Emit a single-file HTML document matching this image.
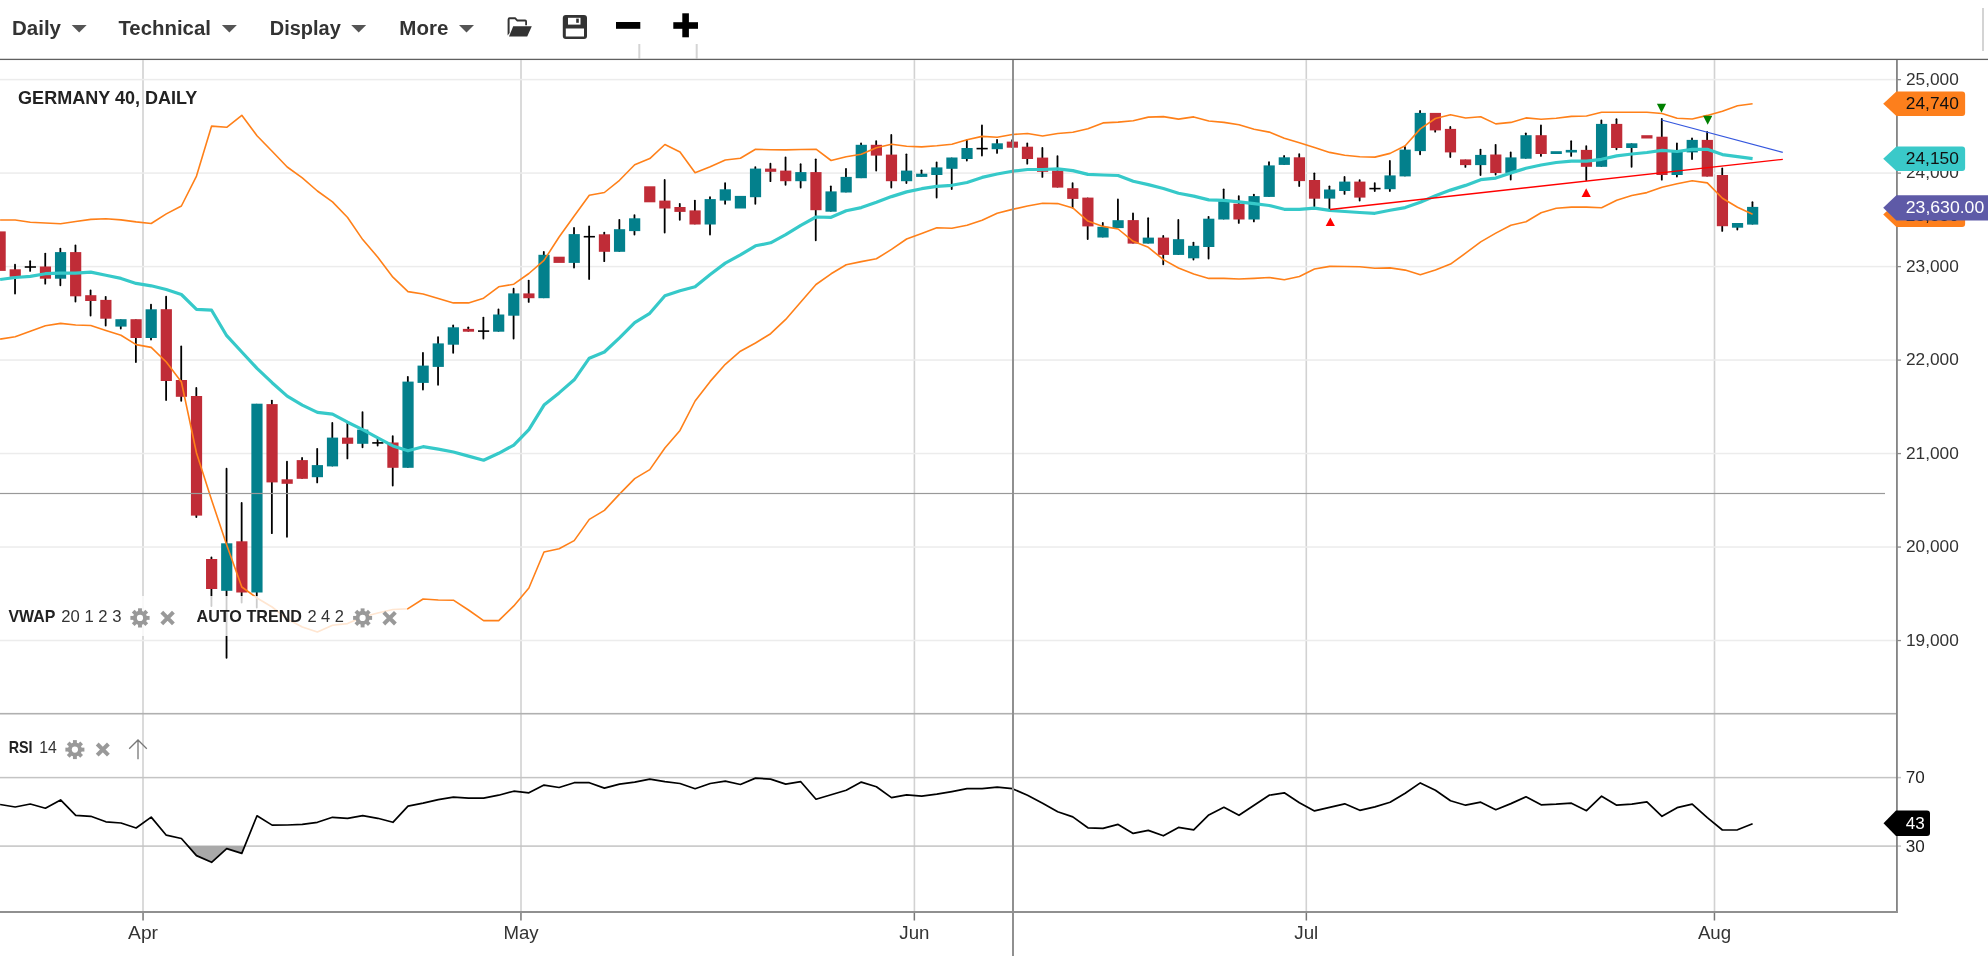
<!DOCTYPE html><html><head><meta charset="utf-8"><style>html,body{margin:0;padding:0;background:#fff;}body{width:1988px;height:956px;overflow:hidden;position:relative;}svg{position:absolute;left:0;top:0;will-change:transform;}text{font-family:"Liberation Sans", sans-serif;}</style></head><body>
<svg width="1988" height="956" viewBox="0 0 1988 956">
<text x="12" y="35.3" font-size="20" font-weight="bold" fill="#333" textLength="49" lengthAdjust="spacingAndGlyphs">Daily</text>
<path d="M71.7 25 L86.7 25 L79.2 32.6 Z" fill="#555"/>
<text x="118.4" y="35.3" font-size="20" font-weight="bold" fill="#333" textLength="92.5" lengthAdjust="spacingAndGlyphs">Technical</text>
<path d="M221.9 25 L236.9 25 L229.4 32.6 Z" fill="#555"/>
<text x="269.8" y="35.3" font-size="20" font-weight="bold" fill="#333" textLength="71" lengthAdjust="spacingAndGlyphs">Display</text>
<path d="M351.2 25 L366.2 25 L358.7 32.6 Z" fill="#555"/>
<text x="399.3" y="35.3" font-size="20" font-weight="bold" fill="#333" textLength="49" lengthAdjust="spacingAndGlyphs">More</text>
<path d="M459 25 L474 25 L466.5 32.6 Z" fill="#555"/>
<path d="M508.5 20.5 L508.5 35.5 Q508.5 36.8 510 36.8 L527 36.8 L531.5 26 L513.5 26 L509.8 34.5 Z" fill="none"/>
<g fill="#333"><path d="M507.6 19.5 Q507.6 17.3 509.6 17.3 L515.4 17.3 L517.6 19.6 L525.2 19.6 Q527 19.6 527 21.4 L527 25.2 L525.2 25.2 L525.2 21.6 L517 21.6 L514.8 19.3 L509.6 19.3 L509.6 33 L507.6 35.5 Z"/><path d="M513.2 26.2 L531.8 26.2 L527.2 36.6 L509 36.6 Z"/></g>
<g><rect x="562.8" y="15" width="24.2" height="24" rx="3" fill="#333"/><rect x="565.8" y="28.5" width="18.2" height="8" fill="#fff"/><rect x="568" y="17.8" width="12.5" height="6.8" fill="#fff"/><rect x="576.2" y="18.6" width="2.6" height="4.2" fill="#333"/></g>
<rect x="616" y="22" width="24.3" height="6.8" fill="#000"/>
<rect x="673.3" y="22.2" width="24.7" height="6.6" fill="#000"/><rect x="682.3" y="13.3" width="6.6" height="24" fill="#000"/>
<rect x="638.3" y="44" width="2" height="14.5" fill="#d4d4d4"/><rect x="695.7" y="44" width="2" height="14.5" fill="#d4d4d4"/><rect x="1982" y="8" width="2" height="43" fill="#d4d4d4"/>
<rect x="0" y="58.75" width="1988" height="1.3" fill="#606060"/>
<rect x="142.2" y="60" width="1.6" height="852" fill="#d2d2d2"/>
<rect x="142.30" y="912" width="1.5" height="8.5" fill="#777"/>
<rect x="520.2" y="60" width="1.6" height="852" fill="#d2d2d2"/>
<rect x="520.20" y="912" width="1.5" height="8.5" fill="#777"/>
<rect x="913.6" y="60" width="1.6" height="852" fill="#d2d2d2"/>
<rect x="913.60" y="912" width="1.5" height="8.5" fill="#777"/>
<rect x="1305.5" y="60" width="1.6" height="852" fill="#d2d2d2"/>
<rect x="1305.60" y="912" width="1.5" height="8.5" fill="#777"/>
<rect x="1713.7" y="60" width="1.6" height="852" fill="#d2d2d2"/>
<rect x="1713.70" y="912" width="1.5" height="8.5" fill="#777"/>
<rect x="0" y="639.75" width="1897" height="1.5" fill="#ececec"/>
<rect x="0" y="546.26" width="1897" height="1.5" fill="#ececec"/>
<rect x="0" y="452.78" width="1897" height="1.5" fill="#ececec"/>
<rect x="0" y="359.30" width="1897" height="1.5" fill="#ececec"/>
<rect x="0" y="265.82" width="1897" height="1.5" fill="#ececec"/>
<rect x="0" y="172.33" width="1897" height="1.5" fill="#ececec"/>
<rect x="0" y="78.85" width="1897" height="1.5" fill="#ececec"/>
<rect x="0" y="712.9" width="1896" height="1.6" fill="#b0b0b0"/>
<rect x="0" y="776.85" width="1901" height="1.5" fill="#c4c4c4"/>
<rect x="0" y="845.35" width="1901" height="1.5" fill="#c4c4c4"/>
<rect x="-5.48" y="231.40" width="11.2" height="39.50" fill="#c02c37"/>
<line x1="15.03" y1="264.6" x2="15.03" y2="293.6" stroke="#000" stroke-width="1.8" stroke-linecap="round"/>
<rect x="9.63" y="269.30" width="11.2" height="7.50" fill="#c02c37"/>
<line x1="30.14" y1="261.2" x2="30.14" y2="270.9" stroke="#000" stroke-width="1.8" stroke-linecap="round"/>
<line x1="24.74" y1="267" x2="35.94" y2="267" stroke="#000" stroke-width="1.6"/>
<line x1="45.24" y1="253.6" x2="45.24" y2="283.7" stroke="#000" stroke-width="1.8" stroke-linecap="round"/>
<rect x="39.84" y="266.50" width="11.2" height="12.20" fill="#c02c37"/>
<line x1="60.35" y1="248.6" x2="60.35" y2="285.3" stroke="#000" stroke-width="1.8" stroke-linecap="round"/>
<rect x="54.95" y="252.10" width="11.2" height="26.60" fill="#03808c"/>
<line x1="75.46" y1="245.5" x2="75.46" y2="301.5" stroke="#000" stroke-width="1.8" stroke-linecap="round"/>
<rect x="70.06" y="252.10" width="11.2" height="44.20" fill="#c02c37"/>
<line x1="90.57" y1="290.5" x2="90.57" y2="315.6" stroke="#000" stroke-width="1.8" stroke-linecap="round"/>
<rect x="85.17" y="295.20" width="11.2" height="5.80" fill="#c02c37"/>
<line x1="105.68" y1="296.8" x2="105.68" y2="325.5" stroke="#000" stroke-width="1.8" stroke-linecap="round"/>
<rect x="100.28" y="299.90" width="11.2" height="18.80" fill="#c02c37"/>
<line x1="120.78" y1="320.09999999999997" x2="120.78" y2="328.6" stroke="#000" stroke-width="1.8" stroke-linecap="round"/>
<rect x="115.38" y="319.20" width="11.2" height="7.40" fill="#03808c"/>
<line x1="135.89" y1="320.09999999999997" x2="135.89" y2="362" stroke="#000" stroke-width="1.8" stroke-linecap="round"/>
<rect x="130.49" y="319.20" width="11.2" height="18.80" fill="#c02c37"/>
<line x1="151.00" y1="304.6" x2="151.00" y2="339.6" stroke="#000" stroke-width="1.8" stroke-linecap="round"/>
<rect x="145.60" y="309.30" width="11.2" height="28.70" fill="#03808c"/>
<line x1="166.11" y1="296.7" x2="166.11" y2="400" stroke="#000" stroke-width="1.8" stroke-linecap="round"/>
<rect x="160.71" y="309.20" width="11.2" height="71.80" fill="#c02c37"/>
<line x1="181.22" y1="346.4" x2="181.22" y2="400.8" stroke="#000" stroke-width="1.8" stroke-linecap="round"/>
<rect x="175.82" y="380.00" width="11.2" height="16.80" fill="#c02c37"/>
<line x1="196.32" y1="388.0" x2="196.32" y2="517" stroke="#000" stroke-width="1.8" stroke-linecap="round"/>
<rect x="190.92" y="396.00" width="11.2" height="119.60" fill="#c02c37"/>
<line x1="211.43" y1="557.4" x2="211.43" y2="606" stroke="#000" stroke-width="1.8" stroke-linecap="round"/>
<rect x="206.03" y="559.00" width="11.2" height="30.00" fill="#c02c37"/>
<line x1="226.54" y1="468.7" x2="226.54" y2="657.8" stroke="#000" stroke-width="1.8" stroke-linecap="round"/>
<rect x="221.14" y="543.30" width="11.2" height="47.50" fill="#03808c"/>
<line x1="241.65" y1="503" x2="241.65" y2="602.5" stroke="#000" stroke-width="1.8" stroke-linecap="round"/>
<rect x="236.25" y="541.30" width="11.2" height="51.20" fill="#c02c37"/>
<line x1="256.76" y1="404.59999999999997" x2="256.76" y2="607.6" stroke="#000" stroke-width="1.8" stroke-linecap="round"/>
<rect x="251.36" y="403.70" width="11.2" height="188.80" fill="#03808c"/>
<line x1="271.86" y1="400.6" x2="271.86" y2="533.2" stroke="#000" stroke-width="1.8" stroke-linecap="round"/>
<rect x="266.46" y="404.10" width="11.2" height="78.30" fill="#c02c37"/>
<line x1="286.97" y1="461.6" x2="286.97" y2="536.8" stroke="#000" stroke-width="1.8" stroke-linecap="round"/>
<rect x="281.57" y="479.30" width="11.2" height="4.50" fill="#c02c37"/>
<line x1="302.08" y1="458" x2="302.08" y2="477.90000000000003" stroke="#000" stroke-width="1.8" stroke-linecap="round"/>
<rect x="296.68" y="460.10" width="11.2" height="18.70" fill="#c02c37"/>
<line x1="317.19" y1="448.8" x2="317.19" y2="482.4" stroke="#000" stroke-width="1.8" stroke-linecap="round"/>
<rect x="311.79" y="465.10" width="11.2" height="12.10" fill="#03808c"/>
<line x1="332.30" y1="423" x2="332.30" y2="465.5" stroke="#000" stroke-width="1.8" stroke-linecap="round"/>
<rect x="326.90" y="437.60" width="11.2" height="28.80" fill="#03808c"/>
<line x1="347.40" y1="423" x2="347.40" y2="458.4" stroke="#000" stroke-width="1.8" stroke-linecap="round"/>
<rect x="342.00" y="437.60" width="11.2" height="6.20" fill="#c02c37"/>
<line x1="362.51" y1="412.1" x2="362.51" y2="447.3" stroke="#000" stroke-width="1.8" stroke-linecap="round"/>
<rect x="357.11" y="429.60" width="11.2" height="14.20" fill="#03808c"/>
<line x1="377.62" y1="438.4" x2="377.62" y2="445.6" stroke="#000" stroke-width="1.8" stroke-linecap="round"/>
<line x1="372.22" y1="442.9" x2="383.42" y2="442.9" stroke="#000" stroke-width="1.6"/>
<line x1="392.73" y1="436.1" x2="392.73" y2="485.6" stroke="#000" stroke-width="1.8" stroke-linecap="round"/>
<rect x="387.33" y="442.50" width="11.2" height="25.30" fill="#c02c37"/>
<line x1="407.84" y1="376.8" x2="407.84" y2="466.90000000000003" stroke="#000" stroke-width="1.8" stroke-linecap="round"/>
<rect x="402.44" y="381.60" width="11.2" height="86.20" fill="#03808c"/>
<line x1="422.94" y1="352.8" x2="422.94" y2="389.5" stroke="#000" stroke-width="1.8" stroke-linecap="round"/>
<rect x="417.54" y="365.60" width="11.2" height="17.30" fill="#03808c"/>
<line x1="438.05" y1="337.1" x2="438.05" y2="384.8" stroke="#000" stroke-width="1.8" stroke-linecap="round"/>
<rect x="432.65" y="343.40" width="11.2" height="23.50" fill="#03808c"/>
<line x1="453.16" y1="325.5" x2="453.16" y2="352.8" stroke="#000" stroke-width="1.8" stroke-linecap="round"/>
<rect x="447.76" y="327.30" width="11.2" height="17.40" fill="#03808c"/>
<line x1="468.27" y1="327.3" x2="468.27" y2="330.8" stroke="#000" stroke-width="1.8" stroke-linecap="round"/>
<rect x="462.87" y="328.90" width="11.2" height="2.80" fill="#c02c37"/>
<line x1="483.38" y1="317.6" x2="483.38" y2="338.6" stroke="#000" stroke-width="1.8" stroke-linecap="round"/>
<line x1="477.98" y1="331.1" x2="489.18" y2="331.1" stroke="#000" stroke-width="1.6"/>
<line x1="498.48" y1="309.5" x2="498.48" y2="330.8" stroke="#000" stroke-width="1.8" stroke-linecap="round"/>
<rect x="493.08" y="314.50" width="11.2" height="17.20" fill="#03808c"/>
<line x1="513.59" y1="288.7" x2="513.59" y2="338.6" stroke="#000" stroke-width="1.8" stroke-linecap="round"/>
<rect x="508.19" y="293.40" width="11.2" height="22.30" fill="#03808c"/>
<line x1="528.70" y1="280.6" x2="528.70" y2="301.9" stroke="#000" stroke-width="1.8" stroke-linecap="round"/>
<rect x="523.30" y="293.40" width="11.2" height="4.80" fill="#c02c37"/>
<line x1="543.81" y1="252" x2="543.81" y2="297.3" stroke="#000" stroke-width="1.8" stroke-linecap="round"/>
<rect x="538.41" y="254.80" width="11.2" height="43.40" fill="#03808c"/>
<rect x="553.52" y="256.70" width="11.2" height="6.20" fill="#c02c37"/>
<line x1="574.02" y1="227.9" x2="574.02" y2="267.5" stroke="#000" stroke-width="1.8" stroke-linecap="round"/>
<rect x="568.62" y="234.10" width="11.2" height="28.80" fill="#03808c"/>
<line x1="589.13" y1="226.5" x2="589.13" y2="279" stroke="#000" stroke-width="1.8" stroke-linecap="round"/>
<line x1="583.73" y1="236.7" x2="594.93" y2="236.7" stroke="#000" stroke-width="1.6"/>
<line x1="604.24" y1="232.6" x2="604.24" y2="261.2" stroke="#000" stroke-width="1.8" stroke-linecap="round"/>
<rect x="598.84" y="234.30" width="11.2" height="17.50" fill="#c02c37"/>
<line x1="619.35" y1="219.8" x2="619.35" y2="250.9" stroke="#000" stroke-width="1.8" stroke-linecap="round"/>
<rect x="613.95" y="229.20" width="11.2" height="22.60" fill="#03808c"/>
<line x1="634.46" y1="215.1" x2="634.46" y2="234.5" stroke="#000" stroke-width="1.8" stroke-linecap="round"/>
<rect x="629.06" y="218.30" width="11.2" height="12.80" fill="#03808c"/>
<rect x="644.16" y="186.30" width="11.2" height="16.00" fill="#c02c37"/>
<line x1="664.67" y1="179.9" x2="664.67" y2="232.6" stroke="#000" stroke-width="1.8" stroke-linecap="round"/>
<rect x="659.27" y="200.60" width="11.2" height="7.90" fill="#c02c37"/>
<line x1="679.78" y1="203.8" x2="679.78" y2="219.8" stroke="#000" stroke-width="1.8" stroke-linecap="round"/>
<rect x="674.38" y="207.00" width="11.2" height="4.90" fill="#c02c37"/>
<line x1="694.89" y1="200.6" x2="694.89" y2="223.6" stroke="#000" stroke-width="1.8" stroke-linecap="round"/>
<rect x="689.49" y="210.40" width="11.2" height="14.10" fill="#c02c37"/>
<line x1="710.00" y1="197.2" x2="710.00" y2="234.5" stroke="#000" stroke-width="1.8" stroke-linecap="round"/>
<rect x="704.60" y="199.10" width="11.2" height="25.40" fill="#03808c"/>
<line x1="725.10" y1="183.1" x2="725.10" y2="203.8" stroke="#000" stroke-width="1.8" stroke-linecap="round"/>
<rect x="719.70" y="189.30" width="11.2" height="11.30" fill="#03808c"/>
<rect x="734.81" y="195.90" width="11.2" height="12.60" fill="#03808c"/>
<line x1="755.32" y1="167.1" x2="755.32" y2="203.8" stroke="#000" stroke-width="1.8" stroke-linecap="round"/>
<rect x="749.92" y="168.60" width="11.2" height="28.60" fill="#03808c"/>
<line x1="770.43" y1="163.7" x2="770.43" y2="181.2" stroke="#000" stroke-width="1.8" stroke-linecap="round"/>
<rect x="765.03" y="168.60" width="11.2" height="3.20" fill="#c02c37"/>
<line x1="785.54" y1="157.5" x2="785.54" y2="184.8" stroke="#000" stroke-width="1.8" stroke-linecap="round"/>
<rect x="780.14" y="170.60" width="11.2" height="10.60" fill="#c02c37"/>
<line x1="800.64" y1="164.2" x2="800.64" y2="187.6" stroke="#000" stroke-width="1.8" stroke-linecap="round"/>
<rect x="795.24" y="172.10" width="11.2" height="9.10" fill="#03808c"/>
<line x1="815.75" y1="159.3" x2="815.75" y2="240.3" stroke="#000" stroke-width="1.8" stroke-linecap="round"/>
<rect x="810.35" y="172.10" width="11.2" height="38.10" fill="#c02c37"/>
<line x1="830.86" y1="186.3" x2="830.86" y2="210.79999999999998" stroke="#000" stroke-width="1.8" stroke-linecap="round"/>
<rect x="825.46" y="191.40" width="11.2" height="20.30" fill="#03808c"/>
<line x1="845.97" y1="168.8" x2="845.97" y2="191.6" stroke="#000" stroke-width="1.8" stroke-linecap="round"/>
<rect x="840.57" y="176.90" width="11.2" height="15.60" fill="#03808c"/>
<line x1="861.08" y1="143.5" x2="861.08" y2="177.29999999999998" stroke="#000" stroke-width="1.8" stroke-linecap="round"/>
<rect x="855.68" y="144.80" width="11.2" height="33.40" fill="#03808c"/>
<line x1="876.18" y1="141.1" x2="876.18" y2="170.6" stroke="#000" stroke-width="1.8" stroke-linecap="round"/>
<rect x="870.78" y="144.80" width="11.2" height="10.80" fill="#c02c37"/>
<line x1="891.29" y1="135" x2="891.29" y2="187.6" stroke="#000" stroke-width="1.8" stroke-linecap="round"/>
<rect x="885.89" y="154.60" width="11.2" height="26.60" fill="#c02c37"/>
<line x1="906.40" y1="154.3" x2="906.40" y2="183.1" stroke="#000" stroke-width="1.8" stroke-linecap="round"/>
<rect x="901.00" y="170.60" width="11.2" height="10.60" fill="#03808c"/>
<line x1="921.51" y1="170.3" x2="921.51" y2="176.0" stroke="#000" stroke-width="1.8" stroke-linecap="round"/>
<rect x="916.11" y="173.70" width="11.2" height="3.20" fill="#03808c"/>
<line x1="936.62" y1="162.4" x2="936.62" y2="197.6" stroke="#000" stroke-width="1.8" stroke-linecap="round"/>
<rect x="931.22" y="167.40" width="11.2" height="7.60" fill="#03808c"/>
<line x1="951.72" y1="158.4" x2="951.72" y2="189.1" stroke="#000" stroke-width="1.8" stroke-linecap="round"/>
<rect x="946.32" y="157.50" width="11.2" height="11.30" fill="#03808c"/>
<line x1="966.83" y1="140.1" x2="966.83" y2="160.5" stroke="#000" stroke-width="1.8" stroke-linecap="round"/>
<rect x="961.43" y="148.00" width="11.2" height="11.00" fill="#03808c"/>
<line x1="981.94" y1="125.4" x2="981.94" y2="155.6" stroke="#000" stroke-width="1.8" stroke-linecap="round"/>
<line x1="976.54" y1="148.6" x2="987.74" y2="148.6" stroke="#000" stroke-width="1.6"/>
<line x1="997.05" y1="139.8" x2="997.05" y2="152.9" stroke="#000" stroke-width="1.8" stroke-linecap="round"/>
<rect x="991.65" y="143.30" width="11.2" height="5.90" fill="#03808c"/>
<line x1="1012.16" y1="140.1" x2="1012.16" y2="146.79999999999998" stroke="#000" stroke-width="1.8" stroke-linecap="round"/>
<rect x="1006.76" y="141.60" width="11.2" height="6.10" fill="#c02c37"/>
<line x1="1027.26" y1="143.5" x2="1027.26" y2="163.7" stroke="#000" stroke-width="1.8" stroke-linecap="round"/>
<rect x="1021.86" y="146.70" width="11.2" height="12.30" fill="#c02c37"/>
<line x1="1042.37" y1="148" x2="1042.37" y2="176.9" stroke="#000" stroke-width="1.8" stroke-linecap="round"/>
<rect x="1036.97" y="157.60" width="11.2" height="14.20" fill="#c02c37"/>
<line x1="1057.48" y1="156.1" x2="1057.48" y2="186.7" stroke="#000" stroke-width="1.8" stroke-linecap="round"/>
<rect x="1052.08" y="170.60" width="11.2" height="17.00" fill="#c02c37"/>
<line x1="1072.59" y1="183.1" x2="1072.59" y2="207.6" stroke="#000" stroke-width="1.8" stroke-linecap="round"/>
<rect x="1067.19" y="188.20" width="11.2" height="10.70" fill="#c02c37"/>
<line x1="1087.70" y1="198.5" x2="1087.70" y2="239" stroke="#000" stroke-width="1.8" stroke-linecap="round"/>
<rect x="1082.30" y="197.60" width="11.2" height="28.80" fill="#c02c37"/>
<line x1="1102.80" y1="223" x2="1102.80" y2="236.6" stroke="#000" stroke-width="1.8" stroke-linecap="round"/>
<rect x="1097.40" y="226.80" width="11.2" height="10.70" fill="#03808c"/>
<line x1="1117.91" y1="199.5" x2="1117.91" y2="227.2" stroke="#000" stroke-width="1.8" stroke-linecap="round"/>
<rect x="1112.51" y="220.20" width="11.2" height="7.90" fill="#03808c"/>
<line x1="1133.02" y1="213.5" x2="1133.02" y2="242.7" stroke="#000" stroke-width="1.8" stroke-linecap="round"/>
<rect x="1127.62" y="220.10" width="11.2" height="23.50" fill="#c02c37"/>
<line x1="1148.13" y1="218.2" x2="1148.13" y2="242.7" stroke="#000" stroke-width="1.8" stroke-linecap="round"/>
<rect x="1142.73" y="237.60" width="11.2" height="6.00" fill="#03808c"/>
<line x1="1163.24" y1="236" x2="1163.24" y2="264.3" stroke="#000" stroke-width="1.8" stroke-linecap="round"/>
<rect x="1157.84" y="237.60" width="11.2" height="17.30" fill="#c02c37"/>
<line x1="1178.34" y1="220" x2="1178.34" y2="254.0" stroke="#000" stroke-width="1.8" stroke-linecap="round"/>
<rect x="1172.94" y="239.20" width="11.2" height="15.70" fill="#03808c"/>
<line x1="1193.45" y1="242.6" x2="1193.45" y2="259.6" stroke="#000" stroke-width="1.8" stroke-linecap="round"/>
<rect x="1188.05" y="245.80" width="11.2" height="12.50" fill="#03808c"/>
<line x1="1208.56" y1="216.8" x2="1208.56" y2="258.6" stroke="#000" stroke-width="1.8" stroke-linecap="round"/>
<rect x="1203.16" y="218.70" width="11.2" height="28.30" fill="#03808c"/>
<line x1="1223.67" y1="189.3" x2="1223.67" y2="218.6" stroke="#000" stroke-width="1.8" stroke-linecap="round"/>
<rect x="1218.27" y="201.20" width="11.2" height="18.30" fill="#03808c"/>
<line x1="1238.78" y1="196.1" x2="1238.78" y2="222.9" stroke="#000" stroke-width="1.8" stroke-linecap="round"/>
<rect x="1233.38" y="203.70" width="11.2" height="15.80" fill="#c02c37"/>
<line x1="1253.88" y1="194.6" x2="1253.88" y2="221.4" stroke="#000" stroke-width="1.8" stroke-linecap="round"/>
<rect x="1248.48" y="196.10" width="11.2" height="23.40" fill="#03808c"/>
<line x1="1268.99" y1="162.2" x2="1268.99" y2="196.0" stroke="#000" stroke-width="1.8" stroke-linecap="round"/>
<rect x="1263.59" y="165.40" width="11.2" height="31.50" fill="#03808c"/>
<line x1="1284.10" y1="156" x2="1284.10" y2="164.0" stroke="#000" stroke-width="1.8" stroke-linecap="round"/>
<rect x="1278.70" y="157.30" width="11.2" height="7.60" fill="#03808c"/>
<line x1="1299.21" y1="154.1" x2="1299.21" y2="186.1" stroke="#000" stroke-width="1.8" stroke-linecap="round"/>
<rect x="1293.81" y="157.30" width="11.2" height="23.80" fill="#c02c37"/>
<line x1="1314.32" y1="173.3" x2="1314.32" y2="206.2" stroke="#000" stroke-width="1.8" stroke-linecap="round"/>
<rect x="1308.92" y="180.00" width="11.2" height="18.70" fill="#c02c37"/>
<line x1="1329.42" y1="186.3" x2="1329.42" y2="208.9" stroke="#000" stroke-width="1.8" stroke-linecap="round"/>
<rect x="1324.02" y="189.50" width="11.2" height="9.10" fill="#03808c"/>
<line x1="1344.53" y1="176.9" x2="1344.53" y2="193.9" stroke="#000" stroke-width="1.8" stroke-linecap="round"/>
<rect x="1339.13" y="181.60" width="11.2" height="9.40" fill="#03808c"/>
<line x1="1359.64" y1="180.1" x2="1359.64" y2="200.5" stroke="#000" stroke-width="1.8" stroke-linecap="round"/>
<rect x="1354.24" y="181.60" width="11.2" height="16.00" fill="#c02c37"/>
<line x1="1374.75" y1="183.1" x2="1374.75" y2="191" stroke="#000" stroke-width="1.8" stroke-linecap="round"/>
<line x1="1369.35" y1="188.6" x2="1380.55" y2="188.6" stroke="#000" stroke-width="1.6"/>
<line x1="1389.86" y1="160.9" x2="1389.86" y2="191" stroke="#000" stroke-width="1.8" stroke-linecap="round"/>
<rect x="1384.46" y="175.40" width="11.2" height="13.80" fill="#03808c"/>
<line x1="1404.96" y1="146.8" x2="1404.96" y2="175.5" stroke="#000" stroke-width="1.8" stroke-linecap="round"/>
<rect x="1399.56" y="149.60" width="11.2" height="26.80" fill="#03808c"/>
<line x1="1420.07" y1="111" x2="1420.07" y2="154.3" stroke="#000" stroke-width="1.8" stroke-linecap="round"/>
<rect x="1414.67" y="112.90" width="11.2" height="38.20" fill="#03808c"/>
<line x1="1435.18" y1="113.80000000000001" x2="1435.18" y2="131.7" stroke="#000" stroke-width="1.8" stroke-linecap="round"/>
<rect x="1429.78" y="112.90" width="11.2" height="17.50" fill="#c02c37"/>
<line x1="1450.29" y1="127" x2="1450.29" y2="157.1" stroke="#000" stroke-width="1.8" stroke-linecap="round"/>
<rect x="1444.89" y="128.90" width="11.2" height="23.50" fill="#c02c37"/>
<line x1="1465.40" y1="160.3" x2="1465.40" y2="166.9" stroke="#000" stroke-width="1.8" stroke-linecap="round"/>
<rect x="1460.00" y="159.40" width="11.2" height="5.70" fill="#c02c37"/>
<line x1="1480.50" y1="149.6" x2="1480.50" y2="175" stroke="#000" stroke-width="1.8" stroke-linecap="round"/>
<rect x="1475.10" y="154.90" width="11.2" height="10.20" fill="#03808c"/>
<line x1="1495.61" y1="144.8" x2="1495.61" y2="174.6" stroke="#000" stroke-width="1.8" stroke-linecap="round"/>
<rect x="1490.21" y="154.50" width="11.2" height="18.50" fill="#c02c37"/>
<line x1="1510.72" y1="152.5" x2="1510.72" y2="179.5" stroke="#000" stroke-width="1.8" stroke-linecap="round"/>
<rect x="1505.32" y="157.40" width="11.2" height="15.50" fill="#03808c"/>
<line x1="1525.83" y1="133.3" x2="1525.83" y2="157.79999999999998" stroke="#000" stroke-width="1.8" stroke-linecap="round"/>
<rect x="1520.43" y="135.20" width="11.2" height="23.50" fill="#03808c"/>
<line x1="1540.94" y1="125.4" x2="1540.94" y2="155.9" stroke="#000" stroke-width="1.8" stroke-linecap="round"/>
<rect x="1535.54" y="135.20" width="11.2" height="18.80" fill="#c02c37"/>
<rect x="1550.64" y="151.20" width="11.2" height="2.80" fill="#03808c"/>
<line x1="1571.15" y1="141.2" x2="1571.15" y2="155.9" stroke="#000" stroke-width="1.8" stroke-linecap="round"/>
<rect x="1565.75" y="149.90" width="11.2" height="2.60" fill="#03808c"/>
<line x1="1586.26" y1="146.1" x2="1586.26" y2="180" stroke="#000" stroke-width="1.8" stroke-linecap="round"/>
<rect x="1580.86" y="149.90" width="11.2" height="16.90" fill="#c02c37"/>
<line x1="1601.37" y1="120.5" x2="1601.37" y2="165.9" stroke="#000" stroke-width="1.8" stroke-linecap="round"/>
<rect x="1595.97" y="123.90" width="11.2" height="42.90" fill="#03808c"/>
<line x1="1616.48" y1="119.2" x2="1616.48" y2="149.3" stroke="#000" stroke-width="1.8" stroke-linecap="round"/>
<rect x="1611.08" y="123.90" width="11.2" height="24.10" fill="#c02c37"/>
<line x1="1631.58" y1="144.20000000000002" x2="1631.58" y2="166.8" stroke="#000" stroke-width="1.8" stroke-linecap="round"/>
<rect x="1626.18" y="143.30" width="11.2" height="4.70" fill="#03808c"/>
<rect x="1641.29" y="135.20" width="11.2" height="3.30" fill="#c02c37"/>
<line x1="1661.80" y1="119" x2="1661.80" y2="179.7" stroke="#000" stroke-width="1.8" stroke-linecap="round"/>
<rect x="1656.40" y="136.70" width="11.2" height="38.30" fill="#c02c37"/>
<line x1="1676.91" y1="143.3" x2="1676.91" y2="176.6" stroke="#000" stroke-width="1.8" stroke-linecap="round"/>
<rect x="1671.51" y="150.90" width="11.2" height="24.10" fill="#03808c"/>
<line x1="1692.02" y1="138.3" x2="1692.02" y2="159" stroke="#000" stroke-width="1.8" stroke-linecap="round"/>
<rect x="1686.62" y="139.90" width="11.2" height="12.50" fill="#03808c"/>
<line x1="1707.12" y1="132" x2="1707.12" y2="175.7" stroke="#000" stroke-width="1.8" stroke-linecap="round"/>
<rect x="1701.72" y="139.90" width="11.2" height="36.70" fill="#c02c37"/>
<line x1="1722.23" y1="168.4" x2="1722.23" y2="230.9" stroke="#000" stroke-width="1.8" stroke-linecap="round"/>
<rect x="1716.83" y="175.00" width="11.2" height="51.20" fill="#c02c37"/>
<line x1="1737.34" y1="223.9" x2="1737.34" y2="229.6" stroke="#000" stroke-width="1.8" stroke-linecap="round"/>
<rect x="1731.94" y="223.00" width="11.2" height="4.70" fill="#03808c"/>
<line x1="1752.45" y1="202.2" x2="1752.45" y2="223.7" stroke="#000" stroke-width="1.8" stroke-linecap="round"/>
<rect x="1747.05" y="206.90" width="11.2" height="17.70" fill="#03808c"/>
<polyline points="0.1,220.0 15.2,220.0 30.3,222.3 45.4,223.0 60.6,223.8 75.7,221.5 90.8,219.4 105.9,218.8 121.0,219.9 136.1,221.9 151.2,223.5 166.3,213.9 181.4,206.0 196.5,176.1 211.6,126.1 226.7,127.3 241.8,115.3 257.0,135.7 272.1,151.3 287.2,167.0 302.3,177.8 317.4,191.0 332.5,201.9 347.6,217.5 362.7,239.6 377.8,257.2 392.9,277.2 408.0,291.6 423.1,294.0 438.3,298.5 453.4,302.9 468.5,302.9 483.6,298.2 498.7,286.8 513.8,284.2 528.9,273.5 544.0,260.4 559.1,237.0 574.2,216.0 589.3,195.3 604.4,192.5 619.5,180.3 634.7,164.8 649.8,158.6 664.9,144.5 680.0,152.0 695.1,172.7 710.2,166.7 725.3,160.0 740.4,158.2 755.5,149.2 770.6,149.8 785.7,149.9 800.8,149.5 816.0,149.2 831.1,160.5 846.2,156.7 861.3,154.3 876.4,147.7 891.5,144.3 906.6,146.2 921.7,146.9 936.8,145.8 951.9,144.3 967.0,139.8 982.1,136.4 997.2,137.3 1012.4,134.5 1027.5,133.5 1042.6,136.0 1057.7,133.5 1072.8,132.2 1087.9,128.8 1103.0,122.9 1118.1,122.1 1133.2,120.7 1148.3,117.1 1163.4,116.6 1178.5,119.1 1193.7,116.9 1208.8,121.0 1223.9,122.4 1239.0,124.7 1254.1,129.3 1269.2,132.1 1284.3,138.2 1299.4,142.8 1314.5,147.4 1329.6,152.4 1344.7,155.3 1359.8,156.8 1374.9,157.1 1390.1,153.4 1405.2,145.8 1420.3,128.9 1435.4,118.5 1450.5,114.8 1465.6,118.0 1480.7,116.7 1495.8,123.9 1510.9,122.4 1526.0,117.9 1541.1,119.2 1556.2,118.2 1571.4,116.4 1586.5,116.0 1601.6,112.2 1616.7,112.2 1631.8,112.2 1646.9,112.2 1662.0,113.5 1677.1,118.2 1692.2,119.0 1707.3,115.4 1722.4,111.2 1737.5,105.7 1752.6,103.8" fill="none" stroke="#ff8019" stroke-width="1.6" stroke-linejoin="round"/>
<polyline points="0.1,339.1 15.2,336.8 30.3,331.3 45.4,325.8 60.6,323.4 75.7,325.0 90.8,325.5 105.9,330.5 121.0,335.2 136.1,344.6 151.2,347.4 166.3,362.0 181.4,382.0 196.5,453.0 211.6,500.0 226.7,545.0 241.8,587.0 257.0,598.0 272.1,607.0 287.2,619.0 302.3,627.0 317.4,632.0 332.5,625.3 347.6,623.6 362.7,617.0 377.8,613.0 392.9,609.5 408.0,608.7 423.1,599.0 438.3,600.0 453.4,600.2 468.5,610.0 483.6,620.6 498.7,620.6 513.8,605.9 528.9,588.0 544.0,552.0 559.1,548.8 574.2,540.6 589.3,519.4 604.4,510.4 619.5,494.1 634.7,478.6 649.8,469.6 664.9,448.0 680.0,430.4 695.1,401.0 710.2,381.4 725.3,364.3 740.4,351.2 755.5,343.0 770.6,333.7 785.7,319.4 800.8,302.0 816.0,284.5 831.1,273.8 846.2,264.8 861.3,261.6 876.4,258.8 891.5,249.4 906.6,239.0 921.7,233.4 936.8,227.7 951.9,228.3 967.0,225.3 982.1,220.2 997.2,213.2 1012.4,209.4 1027.5,206.0 1042.6,203.2 1057.7,203.6 1072.8,207.9 1087.9,221.1 1103.0,226.4 1118.1,229.0 1133.2,241.3 1148.3,247.3 1163.4,259.6 1178.5,268.0 1193.7,274.1 1208.8,278.4 1223.9,278.4 1239.0,279.0 1254.1,278.4 1269.2,277.5 1284.3,279.7 1299.4,276.5 1314.5,269.0 1329.6,266.4 1344.7,266.5 1359.8,266.8 1374.9,268.3 1390.1,267.9 1405.2,270.1 1420.3,274.8 1435.4,270.1 1450.5,264.1 1465.6,253.2 1480.7,241.9 1495.8,233.1 1510.9,225.2 1526.0,221.8 1541.1,212.8 1556.2,208.3 1571.4,207.1 1586.5,207.1 1601.6,207.7 1616.7,200.2 1631.8,195.5 1646.9,192.6 1662.0,187.2 1677.1,183.8 1692.2,180.7 1707.3,182.9 1722.4,198.2 1737.5,207.3 1752.6,214.2" fill="none" stroke="#ff8019" stroke-width="1.6" stroke-linejoin="round"/>
<polyline points="0.1,279.5 15.2,277.5 30.3,276.4 45.4,273.7 60.6,273.2 75.7,273.2 90.8,272.1 105.9,275.3 121.0,278.4 136.1,283.4 151.2,285.8 166.3,289.5 181.4,294.5 196.5,309.4 211.6,310.2 226.7,335.7 241.8,352.0 257.0,368.4 272.1,382.7 287.2,396.1 302.3,405.1 317.4,412.4 332.5,414.1 347.6,422.2 362.7,429.6 377.8,437.8 392.9,445.9 408.0,450.8 423.1,446.7 438.3,449.2 453.4,452.0 468.5,456.1 483.6,460.2 498.7,453.3 513.8,445.1 528.9,429.6 544.0,405.1 559.1,392.9 574.2,379.8 589.3,358.2 604.4,352.0 619.5,337.8 634.7,322.7 649.8,313.3 664.9,295.7 680.0,290.8 695.1,286.7 710.2,274.5 725.3,263.1 740.4,254.9 755.5,245.8 770.6,242.8 785.7,234.7 800.8,225.3 816.0,217.0 831.1,217.3 846.2,210.8 861.3,207.6 876.4,202.3 891.5,196.6 906.6,191.9 921.7,188.7 936.8,186.3 951.9,185.3 967.0,182.5 982.1,177.4 997.2,174.0 1012.4,171.2 1027.5,169.5 1042.6,169.5 1057.7,168.8 1072.8,170.6 1087.9,174.4 1103.0,175.0 1118.1,175.5 1133.2,181.3 1148.3,184.6 1163.4,188.5 1178.5,193.3 1193.7,196.1 1208.8,199.9 1223.9,200.3 1239.0,201.8 1254.1,203.7 1269.2,205.5 1284.3,209.3 1299.4,209.3 1314.5,208.2 1329.6,210.3 1344.7,211.5 1359.8,212.5 1374.9,213.3 1390.1,210.3 1405.2,207.6 1420.3,202.3 1435.4,195.8 1450.5,190.1 1465.6,185.4 1480.7,179.7 1495.8,178.1 1510.9,172.9 1526.0,168.2 1541.1,165.0 1556.2,162.5 1571.4,161.2 1586.5,161.2 1601.6,159.3 1616.7,155.9 1631.8,154.0 1646.9,152.5 1662.0,150.4 1677.1,151.5 1692.2,149.3 1707.3,149.3 1722.4,154.6 1737.5,156.7 1752.6,158.7" fill="none" stroke="#36c9c9" stroke-width="3.2" stroke-linejoin="round"/>
<line x1="1330.1" y1="209.5" x2="1782.8" y2="159.3" stroke="#ff0000" stroke-width="1.3"/>
<line x1="1661.5" y1="120" x2="1782.8" y2="152.3" stroke="#3557de" stroke-width="1.2"/>
<path d="M1325.7 226.0 L1334.8999999999999 226.0 L1330.3 217.4 Z" fill="#ff0000"/>
<path d="M1581.6000000000001 196.9 L1590.8 196.9 L1586.2 188.3 Z" fill="#ff0000"/>
<path d="M1656.9 103.7 L1666.1 103.7 L1661.5 112.7 Z" fill="#008000"/>
<path d="M1703.1000000000001 115.8 L1712.3 115.8 L1707.7 124.8 Z" fill="#008000"/>
<rect x="0" y="492.9" width="1885" height="1.2" fill="#999"/>
<rect x="0" y="596" width="407" height="40" fill="#fff" fill-opacity="0.8"/>
<text x="8.5" y="621.9" font-size="17" font-weight="bold" fill="#222" textLength="46.9" lengthAdjust="spacingAndGlyphs">VWAP</text>
<text x="61.3" y="621.9" font-size="17" fill="#333" textLength="60.2" lengthAdjust="spacingAndGlyphs">20 1 2 3</text>
<g transform="translate(140,617.9)" fill="#999"><circle r="7.10"/><rect x="-1.95" y="-9.6" width="3.9" height="19.2" transform="rotate(0)"/><rect x="-1.95" y="-9.6" width="3.9" height="19.2" transform="rotate(45)"/><rect x="-1.95" y="-9.6" width="3.9" height="19.2" transform="rotate(90)"/><rect x="-1.95" y="-9.6" width="3.9" height="19.2" transform="rotate(135)"/><circle r="3.1" fill="#fff"/></g>
<path d="M161.79999999999998 612.2 L173.4 623.8 M173.4 612.2 L161.79999999999998 623.8" stroke="#999" stroke-width="4" stroke-linecap="butt"/>
<text x="196.5" y="621.9" font-size="17" font-weight="bold" fill="#222" textLength="105.5" lengthAdjust="spacingAndGlyphs">AUTO TREND</text>
<text x="307.4" y="621.9" font-size="17" fill="#333" textLength="36.6" lengthAdjust="spacingAndGlyphs">2 4 2</text>
<g transform="translate(362.6,617.9)" fill="#999"><circle r="7.03"/><rect x="-1.95" y="-9.5" width="3.9" height="19.0" transform="rotate(0)"/><rect x="-1.95" y="-9.5" width="3.9" height="19.0" transform="rotate(45)"/><rect x="-1.95" y="-9.5" width="3.9" height="19.0" transform="rotate(90)"/><rect x="-1.95" y="-9.5" width="3.9" height="19.0" transform="rotate(135)"/><circle r="3.1" fill="#fff"/></g>
<path d="M383.8 612.4000000000001 L395.40000000000003 624.0 M395.40000000000003 612.4000000000001 L383.8 624.0" stroke="#999" stroke-width="4" stroke-linecap="butt"/>
<text x="18.1" y="104.1" font-size="18" font-weight="bold" fill="#222" textLength="179.3" lengthAdjust="spacingAndGlyphs">GERMANY 40, DAILY</text>
<path d="M187 846.1 L195.5 855.6 L211.3 862.3 L226.3 848.6 L241.4 853.4 L244.5 846.1 Z" fill="#a9a9a9"/>
<polyline points="0.1,804.5 15.2,807.0 30.3,804.0 45.4,808.2 60.6,799.9 75.7,815.4 90.8,816.3 105.9,821.8 121.0,823.0 136.1,828.0 151.2,817.1 166.3,835.2 181.4,838.5 196.5,855.6 211.6,862.3 226.7,848.6 241.8,853.4 257.0,815.8 272.1,825.1 287.2,825.0 302.3,824.4 317.4,822.3 332.5,817.3 347.6,818.3 362.7,815.7 377.8,818.3 392.9,822.3 408.0,806.2 423.1,803.2 438.3,799.6 453.4,797.2 468.5,798.2 483.6,798.2 498.7,795.2 513.8,791.2 528.9,792.8 544.0,785.1 559.1,787.5 574.2,782.7 589.3,782.7 604.4,788.1 619.5,784.1 634.7,782.1 649.8,779.1 664.9,781.7 680.0,783.5 695.1,788.7 710.2,783.5 725.3,781.1 740.4,784.5 755.5,778.1 770.6,779.1 785.7,784.1 800.8,781.7 816.0,799.2 831.1,794.8 846.2,790.2 861.3,782.1 876.4,786.7 891.5,797.6 906.6,794.8 921.7,796.2 936.8,794.2 951.9,791.6 967.0,788.7 982.1,788.7 997.2,787.1 1012.4,788.7 1027.5,795.2 1042.6,803.2 1057.7,811.7 1072.8,816.9 1087.9,827.8 1103.0,828.4 1118.1,824.4 1133.2,833.4 1148.3,830.4 1163.4,835.8 1178.5,827.4 1193.7,829.8 1208.8,814.9 1223.9,807.3 1239.0,815.3 1254.1,805.2 1269.2,795.2 1284.3,792.8 1299.4,802.8 1314.5,810.9 1329.6,807.3 1344.7,803.8 1359.8,810.3 1374.9,806.9 1390.1,802.2 1405.2,793.2 1420.3,782.9 1435.4,790.2 1450.5,800.8 1465.6,805.2 1480.7,802.2 1495.8,809.7 1510.9,803.6 1526.0,796.8 1541.1,804.8 1556.2,804.2 1571.4,803.2 1586.5,810.7 1601.6,796.2 1616.7,805.2 1631.8,804.2 1646.9,801.8 1662.0,816.3 1677.1,807.7 1692.2,804.2 1707.3,817.7 1722.4,830.0 1737.5,829.8 1752.6,823.8" fill="none" stroke="#000" stroke-width="1.7" stroke-linejoin="round"/>
<text x="8.7" y="753" font-size="17" font-weight="bold" fill="#222" textLength="23.9" lengthAdjust="spacingAndGlyphs">RSI</text>
<text x="39.3" y="753" font-size="17" fill="#333" textLength="17.6" lengthAdjust="spacingAndGlyphs">14</text>
<g transform="translate(74.9,749.6)" fill="#999"><circle r="7.03"/><rect x="-1.95" y="-9.5" width="3.9" height="19.0" transform="rotate(0)"/><rect x="-1.95" y="-9.5" width="3.9" height="19.0" transform="rotate(45)"/><rect x="-1.95" y="-9.5" width="3.9" height="19.0" transform="rotate(90)"/><rect x="-1.95" y="-9.5" width="3.9" height="19.0" transform="rotate(135)"/><circle r="3.1" fill="#fff"/></g>
<path d="M97.2 744.0 L108.39999999999999 755.2 M108.39999999999999 744.0 L97.2 755.2" stroke="#999" stroke-width="4" stroke-linecap="butt"/>
<path d="M138 759.3 L138 740.5 M129.2 748.8 L138 740 L146.8 748.8" stroke="#777" stroke-width="1.3" fill="none"/>
<rect x="1896.05" y="60" width="1.75" height="853" fill="#7f7f7f"/>
<rect x="0" y="911" width="1897.5" height="2" fill="#909090"/>
<rect x="1012" y="60" width="2" height="896" fill="#909090"/>
<rect x="1896" y="79.00" width="5" height="1.3" fill="#8a8a8a"/>
<text x="1906" y="85.00" font-size="16" fill="#333" textLength="52.8" lengthAdjust="spacingAndGlyphs">25,000</text>
<rect x="1896" y="172.48" width="5" height="1.3" fill="#8a8a8a"/>
<text x="1906" y="178.48" font-size="16" fill="#333" textLength="52.8" lengthAdjust="spacingAndGlyphs">24,000</text>
<rect x="1896" y="265.97" width="5" height="1.3" fill="#8a8a8a"/>
<text x="1906" y="271.97" font-size="16" fill="#333" textLength="52.8" lengthAdjust="spacingAndGlyphs">23,000</text>
<rect x="1896" y="359.45" width="5" height="1.3" fill="#8a8a8a"/>
<text x="1906" y="365.45" font-size="16" fill="#333" textLength="52.8" lengthAdjust="spacingAndGlyphs">22,000</text>
<rect x="1896" y="452.93" width="5" height="1.3" fill="#8a8a8a"/>
<text x="1906" y="458.93" font-size="16" fill="#333" textLength="52.8" lengthAdjust="spacingAndGlyphs">21,000</text>
<rect x="1896" y="546.41" width="5" height="1.3" fill="#8a8a8a"/>
<text x="1906" y="552.41" font-size="16" fill="#333" textLength="52.8" lengthAdjust="spacingAndGlyphs">20,000</text>
<rect x="1896" y="639.90" width="5" height="1.3" fill="#8a8a8a"/>
<text x="1906" y="645.90" font-size="16" fill="#333" textLength="52.8" lengthAdjust="spacingAndGlyphs">19,000</text>
<text x="1905.8" y="783.20" font-size="16" fill="#222" textLength="19" lengthAdjust="spacingAndGlyphs">70</text>
<text x="1905.8" y="851.50" font-size="16" fill="#222" textLength="19" lengthAdjust="spacingAndGlyphs">30</text>
<path d="M1883.2 103.8 L1896.4 91.5 L1962.1 91.5 Q1965.1 91.5 1965.1 94.5 L1965.1 113.1 Q1965.1 116.1 1962.1 116.1 L1896.4 116.1 Z" fill="#fd7f1c"/><text x="1905.8" y="109.40" font-size="16" fill="#111" textLength="53" lengthAdjust="spacingAndGlyphs">24,740</text>
<path d="M1883.2 158.8 L1896.4 146.5 L1962.1 146.5 Q1965.1 146.5 1965.1 149.5 L1965.1 168.10000000000002 Q1965.1 171.10000000000002 1962.1 171.10000000000002 L1896.4 171.10000000000002 Z" fill="#3ac9c9"/><text x="1905.8" y="164.40" font-size="16" fill="#111" textLength="53" lengthAdjust="spacingAndGlyphs">24,150</text>
<path d="M1883.2 214.6 L1896.4 202.29999999999998 L1962.1 202.29999999999998 Q1965.1 202.29999999999998 1965.1 205.29999999999998 L1965.1 223.9 Q1965.1 226.9 1962.1 226.9 L1896.4 226.9 Z" fill="#fd7f1c"/><text x="1905.8" y="220.90" font-size="16" fill="#111" textLength="53" lengthAdjust="spacingAndGlyphs">23,550</text>
<path d="M1883.2 207.8 L1896.4 195.20000000000002 L1990 195.20000000000002 Q1993 195.20000000000002 1993 198.20000000000002 L1993 217.4 Q1993 220.4 1990 220.4 L1896.4 220.4 Z" fill="#5e5aa7"/><text x="1905.8" y="213.40" font-size="16" fill="#fff" textLength="78.4" lengthAdjust="spacingAndGlyphs">23,630.00</text>
<path d="M1883.5 823.3 L1896 810.6 L1927 810.6 Q1930 810.6 1930 813.6 L1930 833 Q1930 836 1927 836 L1896 836 Z" fill="#000"/>
<text x="1905.8" y="829" font-size="16" fill="#fff" textLength="19" lengthAdjust="spacingAndGlyphs">43</text>
<text x="128.1" y="938.6" font-size="17.5" fill="#333" textLength="29.9" lengthAdjust="spacingAndGlyphs">Apr</text>
<text x="503.4" y="938.6" font-size="17.5" fill="#333" textLength="35.2" lengthAdjust="spacingAndGlyphs">May</text>
<text x="899.3" y="938.6" font-size="17.5" fill="#333" textLength="30.1" lengthAdjust="spacingAndGlyphs">Jun</text>
<text x="1294.3" y="938.6" font-size="17.5" fill="#333" textLength="24" lengthAdjust="spacingAndGlyphs">Jul</text>
<text x="1697.9" y="938.6" font-size="17.5" fill="#333" textLength="33.2" lengthAdjust="spacingAndGlyphs">Aug</text>
</svg></body></html>
